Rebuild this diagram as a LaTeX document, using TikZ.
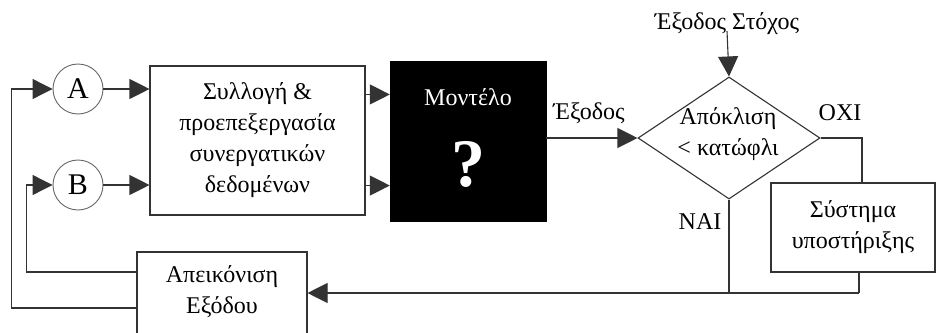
\documentclass[tikz,border=0pt]{standalone}
\usepackage{fontspec}
\setmainfont{Liberation Serif}
\usetikzlibrary{shapes.geometric,arrows.meta}
\begin{document}
\begin{tikzpicture}[x=1pt,y=-1pt,
  txt/.style={font=\fontsize{24}{31}\selectfont, align=center, inner sep=0pt},
  wire/.style={draw=black!80, line width=1.1pt},
  arr/.style={wire, -{Triangle[length=20pt,width=20pt]}},
  block/.style={wire, fill=white, inner sep=0pt},
  bubble/.style={circle, draw=black!60, line width=0.9pt, minimum size=50pt, inner sep=0pt,
                 font=\fontsize{30}{32}\selectfont}]
  \clip (0,0) rectangle (936,332);
  \fill[white] (0,0) rectangle (936,332);

  % input bubbles
  \node[bubble] (A) at (78,89) {A};
  \node[bubble] (B) at (78,185) {B};

  % collection / preprocessing block
  \node[block, minimum width=215pt, minimum height=149pt] (L) at (257.5,140.5) {};
  \node[txt] at (L.center) {Συλλογή \&\\προεπεξεργασία\\συνεργατικών\\δεδομένων};

  % model block
  \node[draw=black, fill=black, minimum width=156pt, minimum height=160pt, inner sep=0pt] (M) at (468,141) {};
  \node[txt, text=white] at (468,97) {Μοντέλο};
  \node[text=white, font=\fontsize{68}{68}\selectfont\bfseries, inner sep=0pt] at (468,164) {?};

  % decision
  \node[diamond, wire, minimum width=182pt, minimum height=122pt, inner sep=0pt] (D) at (729,138) {};
  \node[txt] at (728,134) {Απόκλιση\\< κατώφλι};
  \node[txt] (T) at (727,24) {Έξοδος Στόχος};

  % support system block
  \node[block, minimum width=164pt, minimum height=89pt] (S) at (853,227.5) {};
  \node[txt] at (S.center) {Σύστημα\\υποστήριξης};

  % output display block
  \node[block, minimum width=170pt, minimum height=82pt] (P) at (222,293) {};
  \node[txt] at (222,292) {Απεικόνιση\\Εξόδου};

  % labels
  \node[txt] (lout) at (589,113) {Έξοδος};
  \node[txt] (lno) at (840,113) {ΟΧΙ};
  \node[txt] (lyes) at (700,222) {ΝΑΙ};

  \coordinate (oc) at (862,138);
  \coordinate (sb) at (859,293);

  % forward path
  \draw[arr] (A.east) -- (A.east -| L.west);
  \draw[arr] (B.east) -- (B.east -| L.west);
  \draw[arr] ([yshift=-29pt]L.north east) -- ([yshift=-29pt]L.north east -| M.west);
  \draw[arr] ([yshift=30pt]L.south east) -- ([yshift=30pt]L.south east -| M.west);
  \draw[arr] (D.west -| M.east) -- (D.west);
  \draw[arr] (T.south) ++(0,-4) -- (D.north);

  % decision branches
  \draw[wire] (D.east) -- (oc) -- (oc |- S.north);
  \draw[wire] (sb |- S.south) -- (sb);
  \draw[wire] (D.south) -- (D.south |- sb);
  \draw[arr] (sb) -- (sb -| P.east);

  % feedback to the inputs
  \draw[arr] ([yshift=21pt]P.west) -| ([xshift=-26pt]B.west) -- (B.west);
  \draw[arr] ([yshift=-15pt]P.west) -| ([xshift=-41pt]A.west) -- (A.west);
\end{tikzpicture}
\end{document}
